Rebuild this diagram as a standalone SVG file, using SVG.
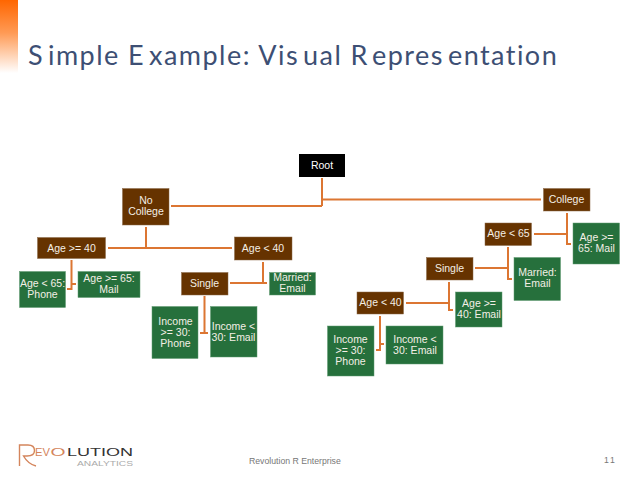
<svg xmlns="http://www.w3.org/2000/svg" width="638" height="479" viewBox="0 0 638 479">
<style>
.b{fill:#663300;stroke:#8a6a4a;stroke-width:.5}
.g{fill:#26703c;stroke:#5f9a70;stroke-width:.5}
.t{font-family:"Liberation Sans",Arial,sans-serif;font-size:10.5px;fill:#f4efe6;text-anchor:middle}
.c path{fill:none;stroke:#dc7632;stroke-width:2}
.l{font-family:"Liberation Sans",Arial,sans-serif}
</style>
<defs><linearGradient id="o" x1="0" y1="0" x2="0" y2="1"><stop offset="0" stop-color="#ff6600"/><stop offset=".45" stop-color="#ff9a55"/><stop offset="1" stop-color="#ffffff"/></linearGradient></defs>
<rect width="638" height="479" fill="#fff"/>
<rect x="0" y="0" width="18" height="73" fill="url(#o)"/>
<text x="28" y="65" font-family="Lato,'Open Sans',sans-serif" font-size="27" fill="#3d4f74" letter-spacing="1.45">S<tspan dx="4">imple E</tspan><tspan dx="4">xample: Vis</tspan><tspan dx="4">ual R</tspan><tspan dx="4">epres</tspan><tspan dx="4">entation</tspan></text>
<g class="c" id="connectors">
<path d="M322 178V206M171 206H322M322 199.500H541"/>
<path d="M146 227V248M108 248H232"/>
<path d="M71.500 260V289H67M71.500 284H76"/>
<path d="M263 262V283M230 283H267"/>
<path d="M204.500 296V333M200 333H208"/>
<path d="M567 213V244H571M534 234H567"/>
<path d="M508 247V279H512M475 268H508"/>
<path d="M449 282V310H453M406 303H449"/>
<path d="M380 316V350H376M380 344H384"/>
</g>
<g id="root"><rect x="299" y="154" width="46" height="23" fill="#000"/><text class="t" x="322" y="169" style="fill:#fff">Root</text></g>
<g id="no-college"><rect class="b" x="122.500" y="188.500" width="46.500" height="36.500"/><text class="t" x="146" y="204">No</text><text class="t" x="146" y="215">College</text></g>
<g id="college"><rect class="b" x="543.500" y="188.500" width="46.500" height="22.500"/><text class="t" x="566.500" y="203">College</text></g>
<g id="age-ge-40-a"><rect class="b" x="37.500" y="237.500" width="68" height="21"/><text class="t" x="71.500" y="251.500">Age &gt;= 40</text></g>
<g id="age-lt-40-a"><rect class="b" x="234.500" y="237" width="57.500" height="23"/><text class="t" x="263" y="252">Age &lt; 40</text></g>
<g id="age-lt-65-phone"><rect class="g" x="19.500" y="271.500" width="46" height="36"/><text class="t" x="42.500" y="287">Age &lt; 65:</text><text class="t" x="42.500" y="298">Phone</text></g>
<g id="age-ge-65-mail-a"><rect class="g" x="78" y="271.500" width="62" height="26"/><text class="t" x="109" y="282">Age &gt;= 65:</text><text class="t" x="109" y="293">Mail</text></g>
<g id="single-a"><rect class="b" x="181.500" y="272.500" width="46.500" height="22.500"/><text class="t" x="204.500" y="287">Single</text></g>
<g id="married-a"><rect class="g" x="269.500" y="272.500" width="46" height="22.500"/><text class="t" x="292.500" y="281">Married:</text><text class="t" x="292.500" y="292">Email</text></g>
<g id="income-ge-30-a"><rect class="g" x="152" y="306.500" width="46" height="52"/><text class="t" x="175.500" y="325">Income</text><text class="t" x="175.500" y="336">&gt;= 30:</text><text class="t" x="175.500" y="347">Phone</text></g>
<g id="income-lt-30-a"><rect class="g" x="210.500" y="306.500" width="46.500" height="50.500"/><text class="t" x="233.500" y="330">Income &lt;</text><text class="t" x="233.500" y="341">30: Email</text></g>
<g id="age-lt-65"><rect class="b" x="485" y="223" width="46.500" height="22.500"/><text class="t" x="508.500" y="237">Age &lt; 65</text></g>
<g id="age-ge-65-mail-b"><rect class="g" x="573" y="223" width="46.500" height="41"/><text class="t" x="596.500" y="241">Age &gt;=</text><text class="t" x="596.500" y="252">65: Mail</text></g>
<g id="single-b"><rect class="b" x="426.500" y="257.500" width="46.500" height="22.500"/><text class="t" x="449.500" y="272">Single</text></g>
<g id="married-b"><rect class="g" x="514" y="257.500" width="46.500" height="43"/><text class="t" x="537.500" y="276">Married:</text><text class="t" x="537.500" y="287">Email</text></g>
<g id="age-lt-40-b"><rect class="b" x="357" y="292" width="46.500" height="22"/><text class="t" x="380.500" y="306">Age &lt; 40</text></g>
<g id="age-ge-40-email"><rect class="g" x="455.500" y="292" width="46.500" height="35"/><text class="t" x="479" y="307">Age &gt;=</text><text class="t" x="479" y="318">40: Email</text></g>
<g id="income-ge-30-b"><rect class="g" x="327.500" y="326" width="46.500" height="50"/><text class="t" x="350.500" y="343">Income</text><text class="t" x="350.500" y="354">&gt;= 30:</text><text class="t" x="350.500" y="365">Phone</text></g>
<g id="income-lt-30-b"><rect class="g" x="386" y="326" width="57" height="38"/><text class="t" x="415" y="343">Income &lt;</text><text class="t" x="415" y="354">30: Email</text></g>
<g id="logo">
<path d="M19.500 466V445H28Q34.500 445 34.500 450.500Q34.500 456 27 456H23.500Q28 464 36 466" fill="none" stroke="#d4855c" stroke-width="1.400"/>
<text class="l" x="35" y="456" font-size="11" fill="#d4855c" textLength="15" lengthAdjust="spacingAndGlyphs">EV</text>
<text class="l" x="50.500" y="456" font-size="11.500" fill="#d4855c" textLength="15" lengthAdjust="spacingAndGlyphs">O</text>
<text class="l" x="67" y="456" font-size="11.500" fill="#333" textLength="66" lengthAdjust="spacingAndGlyphs">LUTION</text>
<text class="l" x="77" y="466" font-size="8" fill="#aaa" textLength="56" lengthAdjust="spacingAndGlyphs">ANALYTICS</text>
</g>
<text class="l" x="249" y="464" font-size="8.700" fill="#777">Revolution R Enterprise</text>
<text class="l" x="604" y="463" font-size="8.700" fill="#777" letter-spacing="1.800">11</text>
</svg>
